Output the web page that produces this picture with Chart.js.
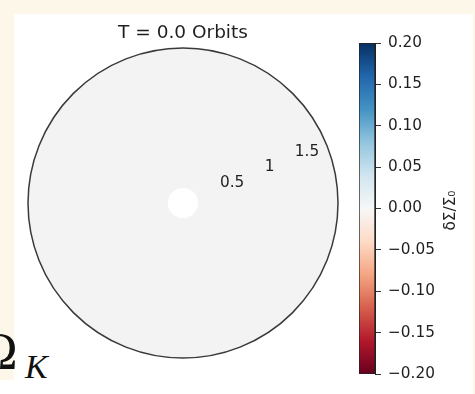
<!DOCTYPE html>
<html>
<head>
<meta charset="utf-8">
<script src="https://cdn.jsdelivr.net/npm/chart.js@4.4.1/dist/chart.umd.min.js"></script>
<style>
  html, body { margin: 0; padding: 0; }
  body { width: 475px; height: 394px; background: #fdf7e9; position: relative; overflow: hidden; }
  #panel { position: absolute; left: 14px; top: 14px; width: 459px; height: 380px; background: #ffffff; }
  #corner { position: absolute; left: 0; top: 380px; width: 14px; height: 14px; background: #ffffff; }
  #disk { position: absolute; left: 0; top: 0; }
  #cbar { position: absolute; left: 340px; top: 0; }
  #omega { position: absolute; left: -21px; top: 326px; font-family: "Liberation Serif", serif; font-size: 52px; color: #111; line-height: 1; }
  #kappa { position: absolute; left: 25px; top: 350px; font-family: "Liberation Serif", serif; font-style: italic; font-size: 34px; color: #111; line-height: 1; }
</style>
</head>
<body>
<div id="panel"></div>
<div id="corner"></div>
<span id="omega">Ω</span><span id="kappa">K</span>
<canvas id="disk" width="475" height="394"></canvas>
<canvas id="cbar" width="135" height="394"></canvas>
<script>
// ---- data ----
const TITLE = 'T = 0.0 Orbits';
const DISK_LABELS = [''];
const R_MIN = -0.156;          // radial axis lower bound (inner origin)
const R_MAX = 1.757;           // outer edge of the disk
const DISK_VALUES = [1.757];   // disk surface (δΣ/Σ0 = 0 everywhere at T = 0)
const HOLE_VALUES = [0.03];    // inner cut-out
const R_TICKS = [0.5, 1, 1.5];
const R_TICK_LABELS = ['0.5', '1', '1.5'];
const R_LABEL_ANGLE_DEG = 22.5;

const CB_MIN = -0.2, CB_MAX = 0.2;
const CB_TICK_VALUES = [-0.2, -0.15, -0.1, -0.05, 0, 0.05, 0.1, 0.15, 0.2];
const CB_TICK_LABELS = ['\u22120.20', '\u22120.15', '\u22120.10', '\u22120.05', '0.00', '0.05', '0.10', '0.15', '0.20'];
const CB_LABEL = 'δΣ/Σ\u2080';
const RDBU = ['#67001f', '#b2182b', '#d6604d', '#f4a582', '#fddbc7', '#f7f7f7', '#d1e5f0', '#92c5de', '#4393c3', '#2166ac', '#053061'];

const TEXT = '#1f1f1f';
const FONT = '"DejaVu Sans", sans-serif';

// ---- disk (polar) chart ----
const radialLabels = {
  id: 'radialLabels',
  afterDraw(chart) {
    const s = chart.scales.r;
    const ctx = chart.ctx;
    const a = R_LABEL_ANGLE_DEG * Math.PI / 180;
    ctx.save();
    ctx.font = '15.3px ' + FONT;
    ctx.fillStyle = TEXT;
    ctx.textAlign = 'center';
    ctx.textBaseline = 'middle';
    R_TICKS.forEach((v, i) => {
      const d = s.getDistanceFromCenterForValue(v);
      ctx.fillText(R_TICK_LABELS[i], s.xCenter + d * Math.cos(a), s.yCenter - d * Math.sin(a));
    });
    ctx.restore();
  }
};

new Chart(document.getElementById('disk'), {
  type: 'polarArea',
  data: {
    labels: DISK_LABELS,
    datasets: [
      { data: HOLE_VALUES, backgroundColor: '#ffffff', borderWidth: 0 },
      { data: DISK_VALUES, backgroundColor: '#f3f3f3', borderWidth: 0 }
    ]
  },
  options: {
    responsive: false,
    animation: false,
    layout: { padding: { left: 28, right: 137, top: 14, bottom: 36 } },
    plugins: {
      legend: { display: false },
      tooltip: { enabled: false },
      title: {
        display: true, text: TITLE, color: TEXT,
        font: { family: FONT, size: 18.5, weight: 'normal' },
        padding: { top: 8.5, bottom: 3.3 }
      }
    },
    scales: {
      r: {
        min: R_MIN, max: R_MAX,
        afterBuildTicks: (scale) => { scale.ticks = R_TICKS.concat([R_MAX]).map(v => ({ value: v })); },
        ticks: { display: false, z: 1 },
        angleLines: { display: false },
        pointLabels: { display: false },
        grid: {
          circular: true, z: 1, lineWidth: 1.5,
          color: (c) => (c.tick && c.tick.value === R_MAX) ? '#3a3a3a' : 'rgba(0,0,0,0)'
        }
      }
    }
  },
  plugins: [radialLabels]
});

// ---- colour bar ----
const cbLabel = {
  id: 'cbLabel',
  afterDraw(chart) {
    const ctx = chart.ctx;
    const y = chart.scales.y;
    ctx.save();
    ctx.font = '15.3px ' + FONT;
    ctx.fillStyle = TEXT;
    ctx.textAlign = 'center';
    ctx.textBaseline = 'middle';
    ctx.translate(111, (y.getPixelForValue(CB_MIN) + y.getPixelForValue(CB_MAX)) / 2 + 2);
    ctx.rotate(-Math.PI / 2);
    ctx.fillText(CB_LABEL, 0, 0);
    ctx.restore();
  }
};

function cbGradient(c) {
  const chart = c.chart;
  const y = chart.scales.y;
  if (!y || !chart.chartArea) return '#f7f7f7';
  const g = chart.ctx.createLinearGradient(0, y.getPixelForValue(CB_MIN), 0, y.getPixelForValue(CB_MAX));
  RDBU.forEach((col, i) => g.addColorStop(i / (RDBU.length - 1), col));
  return g;
}

new Chart(document.getElementById('cbar'), {
  type: 'bar',
  data: {
    labels: [''],
    datasets: [{
      data: [[CB_MIN, CB_MAX]],
      backgroundColor: cbGradient,
      borderColor: '#222222', borderWidth: 1, borderSkipped: false,
      barPercentage: 1, categoryPercentage: 1
    }]
  },
  options: {
    responsive: false,
    animation: false,
    layout: { padding: { left: 19, right: 0, top: 43, bottom: 20 } },
    plugins: { legend: { display: false }, tooltip: { enabled: false }, title: { display: false } },
    scales: {
      x: { type: 'category', display: false },
      y: {
        position: 'right', min: CB_MIN, max: CB_MAX,
        afterFit: (scale) => { scale.width = 100; },
        afterBuildTicks: (scale) => { scale.ticks = CB_TICK_VALUES.map(v => ({ value: v })); },
        ticks: {
          autoSkip: false, color: TEXT, padding: 7,
          font: { family: FONT, size: 15.3 },
          callback: (v) => CB_TICK_LABELS[CB_TICK_VALUES.indexOf(v)]
        },
        grid: { drawOnChartArea: false, drawTicks: true, tickLength: 6, tickColor: '#333333', color: '#333333' },
        border: { display: true, color: '#222222', width: 1 }
      }
    }
  },
  plugins: [cbLabel]
});
</script>
</body>
</html>
